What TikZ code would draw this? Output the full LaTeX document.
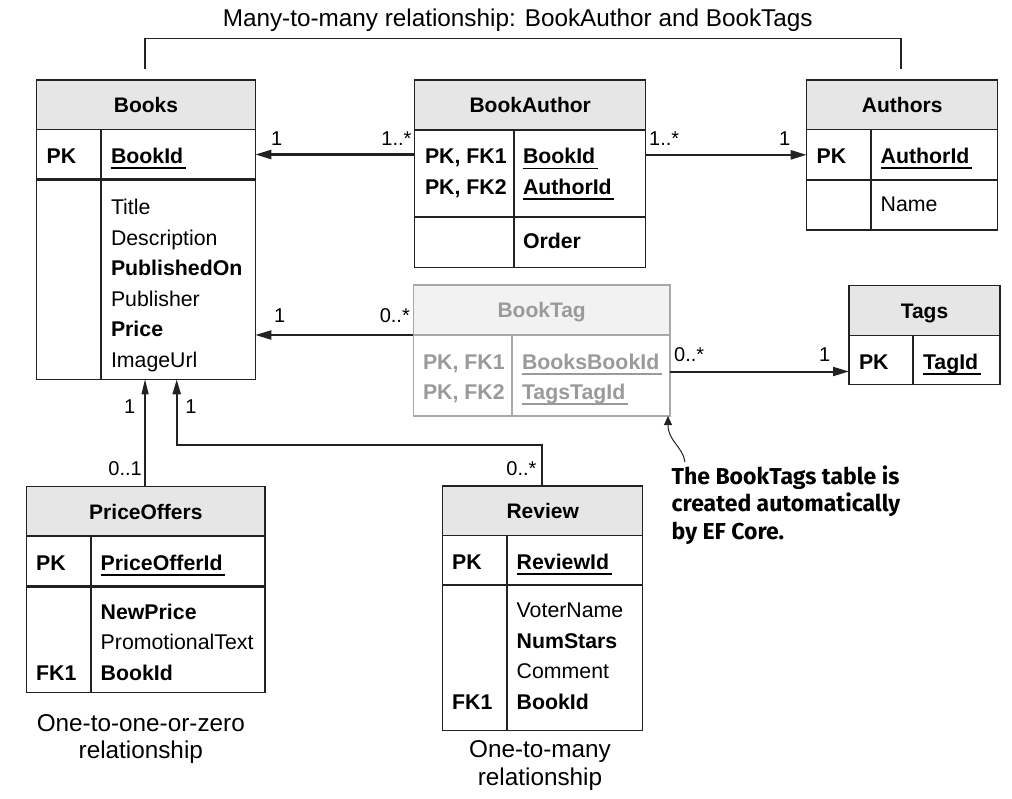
\documentclass[tikz,border=0pt]{standalone}
\usepackage{fontspec}
\setmainfont{Liberation Sans}
\newfontfamily\notefont{Fira Sans}
\usetikzlibrary{arrows.meta,calc}
\definecolor{lc}{HTML}{222222}
\definecolor{hfill}{HTML}{E6E6E6}
\definecolor{gtext}{HTML}{9A9A9A}
\definecolor{gline}{HTML}{A8A8A8}
\definecolor{gfill}{HTML}{F2F2F2}
\tikzset{
  cellbox/.style={draw=lc, line width=1.3pt, anchor=north west, inner sep=0pt, outer sep=0pt},
  hdrbox/.style={cellbox, fill=hfill, text height=15.5pt, text depth=0pt, font=\fontsize{21}{25}\selectfont\bfseries},
  gcellbox/.style={cellbox, draw=gline},
  ghdrbox/.style={hdrbox, draw=gline, fill=gfill, text=gtext},
  fld/.style={anchor=base west, inner sep=0pt, font=\fontsize{21.3}{25}\selectfont},
  bfld/.style={fld, font=\fontsize{21.3}{25}\selectfont\bfseries},
  sepline/.style={draw=lc, line width=2.6pt},
  midline/.style={draw=lc, line width=1.7pt},
  divline/.style={draw=lc, line width=2pt},
  gdivline/.style={draw=gline, line width=1.5pt},
  mult/.style={inner sep=0pt, font=\fontsize{20}{24}\selectfont},
  captxt/.style={inner sep=0pt, font=\fontsize{24.3}{28}\selectfont},
  notetxt/.style={inner sep=0pt, anchor=base west, font=\notefont\fontsize{23}{27}\selectfont\bfseries},
  thickarrow/.style={draw=lc, line width=2.5pt, -{Triangle[length=16pt,width=9pt]}},
  medarrow/.style={draw=lc, line width=2pt, -{Triangle[length=16pt,width=9pt]}},
  thinarrow/.style={draw=lc, line width=1.2pt, -{Triangle[length=15pt,width=7pt]}},
  bracketline/.style={draw=lc, line width=1.3pt},
  notearrow/.style={draw=lc, line width=1pt, -{Triangle[length=9pt,width=8pt]}}
}
\newcommand\keyfld[5]{%
  \node[bfld, text=#5] (#1) at (#2,#3) {#4};
  \draw[line width=1.7pt, draw=#5] ([yshift=-5pt]#1.base west) -- ([yshift=-5pt,xshift=2.5pt]#1.base east);}
\begin{document}
\begin{tikzpicture}[x=1pt,y=-1pt]
\useasboundingbox (0,0) rectangle (1012,798);
\fill[white] (0,0) rectangle (1012,798);

% ---------- title ----------
\node[captxt, anchor=base] (title) at (517.7,26.6) {Many-to-many relationship: BookAuthor and BookTags};

% ---------- Books ----------
\node[hdrbox, minimum width=218.6pt, minimum height=49.7pt] (books-h) at (36.7,80) {Books};
\node[cellbox, minimum width=218.6pt, minimum height=49.6pt] (books-pk) at (36.7,129.7) {};
\node[cellbox, minimum width=218.6pt, minimum height=200pt] (books-b) at (36.7,179.3) {};
\draw[sepline] (books-pk.south west) -- (books-pk.south east);
\draw[divline] (100.7,129.7) -- (100.7,379.3);
\node[bfld] (books-pkl) at (46.5,163.2) {PK};
\keyfld{books-id}{110.8}{163.2}{BookId}{black}
\node[fld] (books-f1) at (110.8,214.5) {Title};
\node[fld] (books-f2) at (110.8,245.1) {Description};
\node[bfld] (books-f3) at (110.8,275.7) {PublishedOn};
\node[fld] (books-f4) at (110.8,306.3) {Publisher};
\node[bfld] (books-f5) at (110.8,336.9) {Price};
\node[fld] (books-f6) at (110.8,367.5) {ImageUrl};

% ---------- BookAuthor ----------
\node[hdrbox, minimum width=231pt, minimum height=50pt] (ba-h) at (414.7,80) {BookAuthor};
\node[cellbox, minimum width=231pt, minimum height=86.7pt] (ba-k) at (414.7,130) {};
\node[cellbox, minimum width=231pt, minimum height=50.6pt] (ba-b) at (414.7,216.7) {};
\draw[midline] (ba-k.south west) -- (ba-k.south east);
\draw[divline] (514,130) -- (514,267.3);
\node[bfld] (ba-l1) at (424.8,163.5) {PK, FK1};
\node[bfld] (ba-l2) at (424.8,194.2) {PK, FK2};
\keyfld{ba-f1}{522.8}{163.5}{BookId}{black}
\keyfld{ba-f2}{522.8}{194.2}{AuthorId}{black}
\node[bfld] (ba-f3) at (522.8,248.2) {Order};

% ---------- Authors ----------
\node[hdrbox, minimum width=191pt, minimum height=49.7pt] (au-h) at (806.7,80) {Authors};
\node[cellbox, minimum width=191pt, minimum height=50.3pt] (au-pk) at (806.7,129.7) {};
\node[cellbox, minimum width=191pt, minimum height=50pt] (au-b) at (806.7,180) {};
\draw[sepline] (au-pk.south west) -- (au-pk.south east);
\draw[divline] (870.7,129.7) -- (870.7,230);
\node[bfld] (au-pkl) at (816.5,163.2) {PK};
\keyfld{au-id}{880.5}{163.2}{AuthorId}{black}
\node[fld] (au-f1) at (880.5,211.8) {Name};

% ---------- BookTag ----------
\node[ghdrbox, minimum width=256.7pt, minimum height=50pt] (bt-h) at (413.3,285) {BookTag};
\node[gcellbox, minimum width=256.7pt, minimum height=81pt] (bt-b) at (413.3,335) {};
\draw[gdivline] (512,335) -- (512,416);
\node[bfld, text=gtext] (bt-l1) at (422.8,369.2) {PK, FK1};
\node[bfld, text=gtext] (bt-l2) at (422.8,399.2) {PK, FK2};
\keyfld{bt-f1}{521.8}{369.2}{BooksBookId}{gtext}
\keyfld{bt-f2}{521.8}{399.2}{TagsTagId}{gtext}

% ---------- Tags ----------
\node[hdrbox, minimum width=151pt, minimum height=50pt] (tg-h) at (849,285.7) {Tags};
\node[cellbox, minimum width=151pt, minimum height=48.6pt] (tg-pk) at (849,335.7) {};
\draw[divline] (912.7,335.7) -- (912.7,384.3);
\node[bfld] (tg-pkl) at (858.8,369.2) {PK};
\keyfld{tg-id}{922.8}{369.2}{TagId}{black}

% ---------- PriceOffers ----------
\node[hdrbox, minimum width=238.3pt, minimum height=49.3pt] (po-h) at (26.7,486.7) {PriceOffers};
\node[cellbox, minimum width=238.3pt, minimum height=50.7pt] (po-pk) at (26.7,536) {};
\node[cellbox, minimum width=238.3pt, minimum height=106pt] (po-b) at (26.7,586.7) {};
\draw[sepline] (po-pk.south west) -- (po-pk.south east);
\draw[divline] (91,536) -- (91,692.7);
\node[bfld] (po-pkl) at (36,570.2) {PK};
\keyfld{po-id}{100.5}{570.2}{PriceOfferId}{black}
\node[bfld] (po-f1) at (100.5,619.2) {NewPrice};
\node[fld] (po-f2) at (100.5,649.2) {PromotionalText};
\node[bfld] (po-f3) at (100.5,680.2) {BookId};
\node[bfld] (po-fk) at (36,680.2) {FK1};

% ---------- Review ----------
\node[hdrbox, minimum width=200pt, minimum height=49.3pt] (rv-h) at (442.7,486) {Review};
\node[cellbox, minimum width=200pt, minimum height=49.7pt] (rv-pk) at (442.7,535.3) {};
\node[cellbox, minimum width=200pt, minimum height=145.7pt] (rv-b) at (442.7,585) {};
\draw[midline] (rv-pk.south west) -- (rv-pk.south east);
\draw[divline] (506.7,535.3) -- (506.7,730.7);
\node[bfld] (rv-pkl) at (452,569.2) {PK};
\keyfld{rv-id}{516.5}{569.2}{ReviewId}{black}
\node[fld] (rv-f1) at (516.5,617.5) {VoterName};
\node[bfld] (rv-f2) at (516.5,648.2) {NumStars};
\node[fld] (rv-f3) at (516.5,678.2) {Comment};
\node[bfld] (rv-f4) at (516.5,709.2) {BookId};
\node[bfld] (rv-fk) at (452,709.2) {FK1};

% ---------- captions ----------
\node[captxt, anchor=base] (cap1a) at (140.8,731.6) {One-to-one-or-zero};
\node[captxt, anchor=base] (cap1b) at (140.8,758.6) {relationship};
\node[captxt, anchor=base] (cap2a) at (540,757.6) {One-to-many};
\node[captxt, anchor=base] (cap2b) at (540,785) {relationship};

% ---------- bracket ----------
\draw[bracketline] ($(books-h.north)+(-1,-10.7)$) |- ($(au-h.north)+(-1.2,-41.7)$) -- ($(au-h.north)+(-1.2,-10.7)$);

% ---------- connectors ----------
\draw[thickarrow] (books-pk.east -| ba-k.west) -- (books-pk.east);
\draw[thickarrow] (au-pk.west -| ba-k.east) -- (au-pk.west);
\draw[medarrow] (bt-h.south west) -- (bt-h.south west -| books-b.east);
\coordinate (tagline) at (0,371.5);
\draw[medarrow] (bt-b.east |- tagline) -- (tg-pk.west |- tagline);
\draw[thinarrow] ([xshift=-0.8pt]po-h.north) -- ([xshift=-0.8pt]po-h.north |- books-b.south);
\coordinate (rvbend) at (176.7,445);
\draw[draw=lc, line width=2.3pt, -{Triangle[length=15pt,width=8pt]}] ([xshift=-1pt]rv-h.north) |- (rvbend) -- (rvbend |- books-b.south);

% ---------- multiplicities ----------
\node[mult, anchor=base west] (m1) at (271,145) {1};
\node[mult, anchor=base east] (m2) at (411.6,145) {1..*};
\node[mult, anchor=base west] (m3) at (649,145) {1..*};
\node[mult, anchor=base east] (m4) at (790.4,145) {1};
\node[mult, anchor=base west] (m5) at (273.8,322.7) {1};
\node[mult, anchor=base east] (m6) at (410,322.7) {0..*};
\node[mult, anchor=base west] (m7) at (674,361.7) {0..*};
\node[mult, anchor=base east] (m8) at (830.4,361.7) {1};
\node[mult, anchor=base east] (m9) at (135.4,413.3) {1};
\node[mult, anchor=base west] (m10) at (185.1,413.3) {1};
\node[mult, anchor=base east] (m11) at (142,475.7) {0..1};
\node[mult, anchor=base east] (m12) at (536.6,475.7) {0..*};

% ---------- note ----------
\node[notetxt] (note1) at (671.5,484.3) {The BookTags table is};
\node[notetxt] (note2) at (671.5,511.6) {created automatically};
\node[notetxt] (note3) at (671.5,539) {by EF Core.};
\coordinate (notestart) at (685,462);
\draw[notearrow] (notestart) .. controls (683,447) and (668,441) .. ([xshift=-2pt]bt-b.south east);
\end{tikzpicture}
\end{document}
